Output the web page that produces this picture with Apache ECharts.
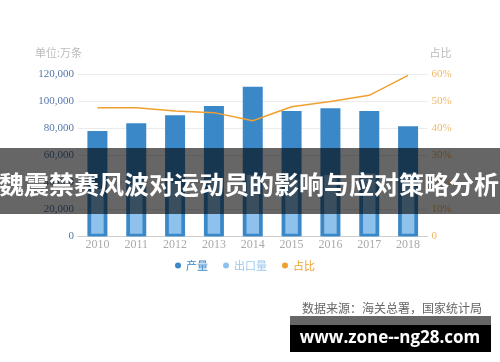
<!DOCTYPE html>
<html>
<head>
<meta charset="utf-8">
<script src="https://cdn.jsdelivr.net/npm/echarts@6/dist/echarts.min.js"></script>
<style>html,body{margin:0;padding:0;background:#fff}#c{width:500px;height:362px}</style>
</head>
<body>
<div id="c"></div>
<script>
var years = ['2010','2011','2012','2013','2014','2015','2016','2017','2018'];
var output = [78000, 83700, 89600, 96500, 110800, 92800, 94800, 92800, 81500];
var exportVol = [37000, 39800, 41500, 44000, 47500, 44500, 47300, 48400, 48500];
var share = [47.6, 47.6, 46.4, 45.8, 42.8, 48.0, 49.9, 52.2, 59.6];
var leftTicks = {min: 0, max: 120000, interval: 20000};
var rightTicks = {min: 0, max: 60, interval: 10};
var titleText = '魏震禁赛风波对运动员的影响与应对策略分析';
var sourceText = '数据来源：海关总署，国家统计局';
var watermark = 'www.zone--ng28.com';

var serif = 'Liberation Serif, DejaVu Serif, serif';
var cjk = 'Noto Sans CJK SC, sans-serif';
var chart = echarts.init(document.getElementById('c'), null, {renderer: 'canvas'});
chart.setOption({
  animation: false,
  backgroundColor: '#fff',
  grid: {left: 78, right: 72.5, top: 74.3, bottom: 125.7, containLabel: false},
  legend: {
    data: [
      {name: '产量', textStyle: {color: '#3a88c8'}},
      {name: '出口量', textStyle: {color: '#9ccaee'}, itemStyle: {color: '#8ec2ec', borderWidth: 0}},
      {name: '占比', textStyle: {color: '#f0a030'}}
    ],
    left: 170, top: 255, icon: 'circle', itemWidth: 6, itemHeight: 6, itemGap: 15,
    textStyle: {fontSize: 11, fontFamily: cjk}
  },
  xAxis: [{
    type: 'category', data: years,
    axisLine: {lineStyle: {color: '#cccccc'}},
    axisTick: {show: false},
    axisLabel: {color: '#aaaaaa', fontSize: 12, fontFamily: serif, margin: 3}
  }, {
    type: 'category', data: years, show: false
  }],
  yAxis: [{
    type: 'value', min: leftTicks.min, max: leftTicks.max, interval: leftTicks.interval,
    name: '单位:万条', nameLocation: 'end', nameGap: 16,
    nameTextStyle: {color: '#bbbbbb', fontSize: 11, fontFamily: cjk, align: 'right', padding: [0, -4, 0, 0]},
    axisLine: {show: false}, axisTick: {show: false},
    splitLine: {lineStyle: {color: '#ebebeb'}},
    axisLabel: {color: '#5577aa', fontSize: 11, fontFamily: serif, margin: 4,
      formatter: function (v) { return v.toLocaleString('en-US'); }}
  }, {
    type: 'value', min: rightTicks.min, max: rightTicks.max, interval: rightTicks.interval,
    name: '占比', nameLocation: 'end', nameGap: 16,
    nameTextStyle: {color: '#bbbbbb', fontSize: 11, fontFamily: cjk, align: 'left', padding: [0, 0, 0, 2]},
    axisLine: {show: false}, axisTick: {show: false}, splitLine: {show: false},
    axisLabel: {color: '#f0b868', fontSize: 11, fontFamily: serif, margin: 4,
      formatter: function (v) { return v === 0 ? '0' : v + '%'; }}
  }],
  series: [{
    name: '产量', type: 'bar', data: output, barWidth: 20,
    itemStyle: {color: '#3a88c8'}
  }, {
    name: '出口量', type: 'bar', data: exportVol, xAxisIndex: 1, barWidth: 17.5,
    itemStyle: {color: '#8ec2ec', borderColor: '#3a88c8', borderWidth: 2.5}
  }, {
    name: '占比', type: 'line', data: share, yAxisIndex: 1, symbol: 'none',
    lineStyle: {color: '#f0a030', width: 1.5}, itemStyle: {color: '#f0a030'}
  }],
  color: ['#3a88c8', '#9ccaee', '#f0a030'],
  graphic: [
    {type: 'rect', z: 100, shape: {x: 0, y: 148, width: 500, height: 66},
     style: {fill: 'rgba(0,0,0,0.6)'}},
    {type: 'text', z: 101, x: 249, y: 184,
     style: {text: titleText, fill: '#ffffff', font: 'bold 25px "Noto Sans CJK SC"',
       align: 'center', verticalAlign: 'middle'}},
    {type: 'text', z: 101, x: 482, y: 308,
     style: {text: sourceText, fill: '#666666', font: '12px "Noto Sans CJK SC"',
       align: 'right', verticalAlign: 'middle'}},
    {type: 'rect', z: 100, shape: {x: 290, y: 316, width: 201, height: 9},
     style: {fill: '#666666'}},
    {type: 'rect', z: 100, shape: {x: 290, y: 325, width: 201, height: 27},
     style: {fill: '#000000'}},
    {type: 'text', z: 101, x: 390, y: 338.5,
     style: {text: watermark, fill: '#ffffff', font: 'bold 17px "Open Sans"',
       align: 'center', verticalAlign: 'middle'}}
  ]
});
</script>
</body>
</html>
